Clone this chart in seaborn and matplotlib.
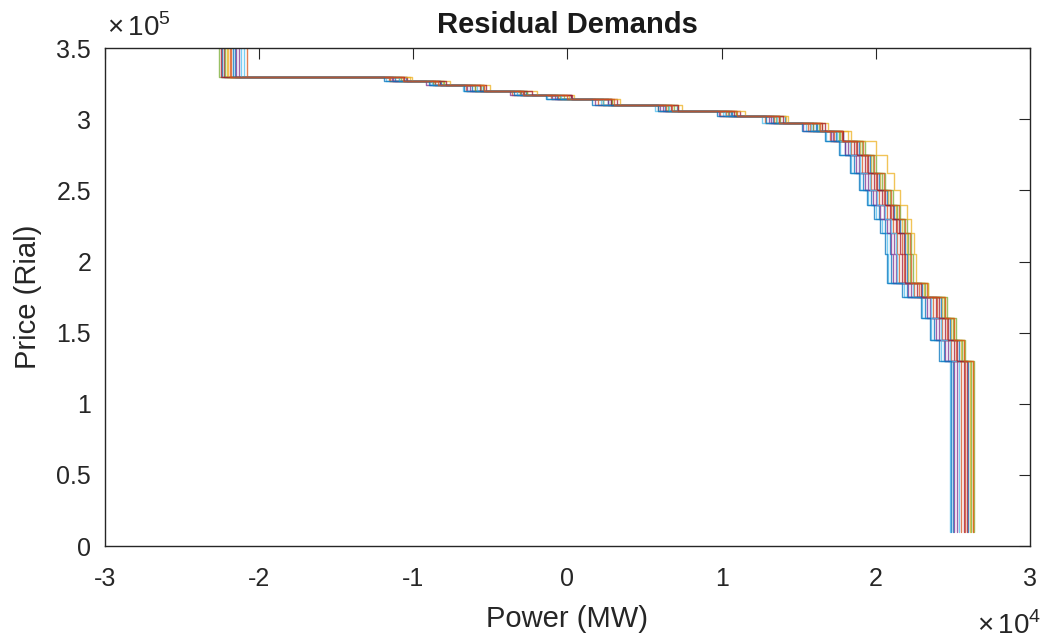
import pandas as pd
import matplotlib
matplotlib.use('Agg')
import matplotlib.pyplot as plt
import seaborn as sns
from matplotlib.ticker import FuncFormatter, MultipleLocator

# price levels of the stepped residual demand curves (Rial), top to bottom
prices = [360000, 330000, 327000, 324000, 320000, 317000, 314000, 310000,
          306000, 302000, 297000, 292000, 285000, 275000, 262000, 250000,
          240000, 230000, 220000, 205000, 185000, 175000, 160000, 145000,
          130000, 10000]

# power (MW) where each curve leaves each price level
curve_01 = [-22400, -10500, -8600, -5500, -2900, 200, 2600, 7100, 10600, 14100, 16200, 17900, 18000,
            18600, 19200, 19700, 20200, 20600, 20900, 21000, 22000, 23200, 23800, 24400, 25000, 25000]
curve_02 = [-21800, -11600, -8700, -6600, -3100, -1100, 2300, 5900, 10300, 12800, 15700, 17000, 18700,
            19400, 20000, 20500, 21000, 21400, 21700, 21800, 22800, 24000, 24600, 25200, 25800, 25800]
curve_03 = [-22100, -10200, -8100, -5000, -2600, 400, 2900, 7400, 10900, 14300, 16500, 18200, 19000,
            19700, 20300, 20800, 21300, 21700, 22000, 22100, 23100, 24300, 24900, 25500, 26100, 26100]
curve_04 = [-21300, -11400, -8300, -6500, -3000, -1000, 2600, 6000, 10500, 13100, 15900, 17200, 18200,
            18900, 19500, 20000, 20500, 20900, 21200, 21300, 22300, 23500, 24100, 24700, 25300, 25300]
curve_05 = [-22600, -10800, -8700, -5600, -3100, -200, 2300, 6900, 10400, 13800, 15900, 17700, 19300,
            20000, 20600, 21100, 21600, 22000, 22300, 22400, 23400, 24600, 25200, 25800, 26400, 26400]
curve_06 = [-21000, -11800, -8900, -6800, -3300, -1300, 2200, 5700, 10100, 12600, 15500, 16800, 17700,
            18400, 19000, 19500, 20000, 20400, 20700, 20800, 21800, 23000, 23600, 24200, 24800, 24800]
curve_07 = [-22300, -10400, -8300, -5300, -2800, 200, 3200, 6700, 11200, 13700, 16500, 17800, 18600,
            19300, 19900, 20400, 20900, 21300, 21600, 21700, 22700, 23900, 24500, 25100, 25700, 25700]
curve_08 = [-21600, -11200, -8200, -6200, -2700, -700, 2800, 6300, 10700, 13300, 16100, 17400, 18900,
            19600, 20200, 20700, 21200, 21600, 21900, 22000, 23000, 24200, 24800, 25400, 26000, 26000]
curve_09 = [-20800, -11500, -8600, -6000, -3600, -600, 2000, 6400, 9900, 13400, 15600, 17300, 18400,
            19100, 19700, 20200, 20700, 21100, 21400, 21500, 22500, 23700, 24300, 24900, 25500, 25500]
curve_10 = [-22000, -10100, -7600, -5400, -2000, 100, 3400, 7200, 11500, 14200, 16900, 18400, 20000,
            20700, 21200, 21600, 22000, 22300, 22500, 22600, 23400, 24500, 25100, 25700, 26300, 26300]
curve_11 = [-21500, -11300, -9200, -6300, -3700, -800, 1800, 6200, 9800, 13200, 15300, 17100, 18000,
            18700, 19300, 19800, 20300, 20700, 21000, 21100, 22100, 23300, 23900, 24500, 25100, 25100]
curve_12 = [-22200, -10900, -8000, -6000, -2600, -500, 2900, 6500, 10900, 13500, 16300, 17600, 19100,
            19800, 20400, 20900, 21400, 21800, 22100, 22200, 23200, 24400, 25000, 25600, 26200, 26200]
curve_13 = [-21200, -10900, -8800, -5900, -3300, -400, 2300, 6600, 10200, 13600, 15800, 17500, 18300,
            19000, 19600, 20100, 20600, 21000, 21300, 21400, 22400, 23600, 24200, 24800, 25400, 25400]
curve_14 = [-22500, -10600, -7900, -5700, -2300, 300, 2800, 7200, 10800, 14000, 16700, 17900, 18800,
            19500, 20100, 20600, 21100, 21500, 21800, 21900, 22900, 24100, 24700, 25300, 25900, 25900]
curve_15 = [-21700, -11900, -9000, -6700, -3500, -1400, 1600, 5900, 9700, 12900, 15200, 16700, 17600,
            18300, 18900, 19400, 19900, 20300, 20600, 20700, 21700, 22900, 23500, 24100, 24900, 24900]
curve_16 = [-21900, -10700, -8400, -5400, -2900, 0, 3000, 6800, 11000, 13700, 16400, 17800, 19200,
            19900, 20500, 21000, 21500, 21900, 22200, 22300, 23300, 24500, 25100, 25700, 26300, 26300]

curves = [curve_01, curve_02, curve_03, curve_04, curve_05, curve_06, curve_07, curve_08,
          curve_09, curve_10, curve_11, curve_12, curve_13, curve_14, curve_15, curve_16]

matlab_colors = ['#0072BD', '#D95319', '#EDB120', '#7E2F8E', '#77AC30', '#4DBEEE', '#A2142F']

rows = []
for i, q in enumerate(curves):
    for power, price in zip(q, prices):
        rows.append([i, power, price])
df = pd.DataFrame(rows, columns=['curve', 'power', 'price'])

sns.set_style('white')
plt.rcParams['font.family'] = ['Liberation Sans', 'DejaVu Sans']
plt.rcParams['mathtext.fontset'] = 'custom'
plt.rcParams['mathtext.rm'] = 'Liberation Sans'

fig = plt.figure(figsize=(10.45, 6.41), dpi=100)
ax = fig.add_axes([0.1005, 0.148, 0.8851, 0.777])

palette = [matlab_colors[i % 7] for i in range(len(curves))]
sns.lineplot(data=df, x='power', y='price', hue='curve', palette=palette,
             estimator=None, sort=False, drawstyle='steps-pre',
             linewidth=1.0, alpha=0.75, legend=False, ax=ax)

ax.set_xlim(-30000, 30000)
ax.set_ylim(0, 350000)
ax.xaxis.set_major_locator(MultipleLocator(10000))
ax.yaxis.set_major_locator(MultipleLocator(50000))
ax.xaxis.set_major_formatter(FuncFormatter(lambda v, p: f'{v / 1e4:g}'))
ax.yaxis.set_major_formatter(FuncFormatter(lambda v, p: f'{v / 1e5:g}'))

for s in ax.spines.values():
    s.set_color('#262626')
    s.set_linewidth(1.0)
ax.tick_params(direction='in', length=8, width=0.8, top=True, right=True,
               labelsize=18, colors='#262626')
ax.tick_params(axis='x', pad=15)
ax.tick_params(axis='y', pad=10)

ax.set_xlabel('Power (MW)', fontsize=21, color='#262626', labelpad=10)
ax.set_ylabel('Price (Rial)', fontsize=21, color='#262626', labelpad=10)
ax.set_title('Residual Demands', fontsize=21, fontweight='bold', color='#1a1a1a', pad=11)

ax.text(0.002, 1.012, r'$\times\,10^{5}$', transform=ax.transAxes, fontsize=20,
        color='#262626', ha='left', va='bottom')
ax.text(1.012, -0.16, r'$\times\,10^{4}$', transform=ax.transAxes, fontsize=20,
        color='#262626', ha='right', va='center')

fig.savefig('out.png', dpi=100)
